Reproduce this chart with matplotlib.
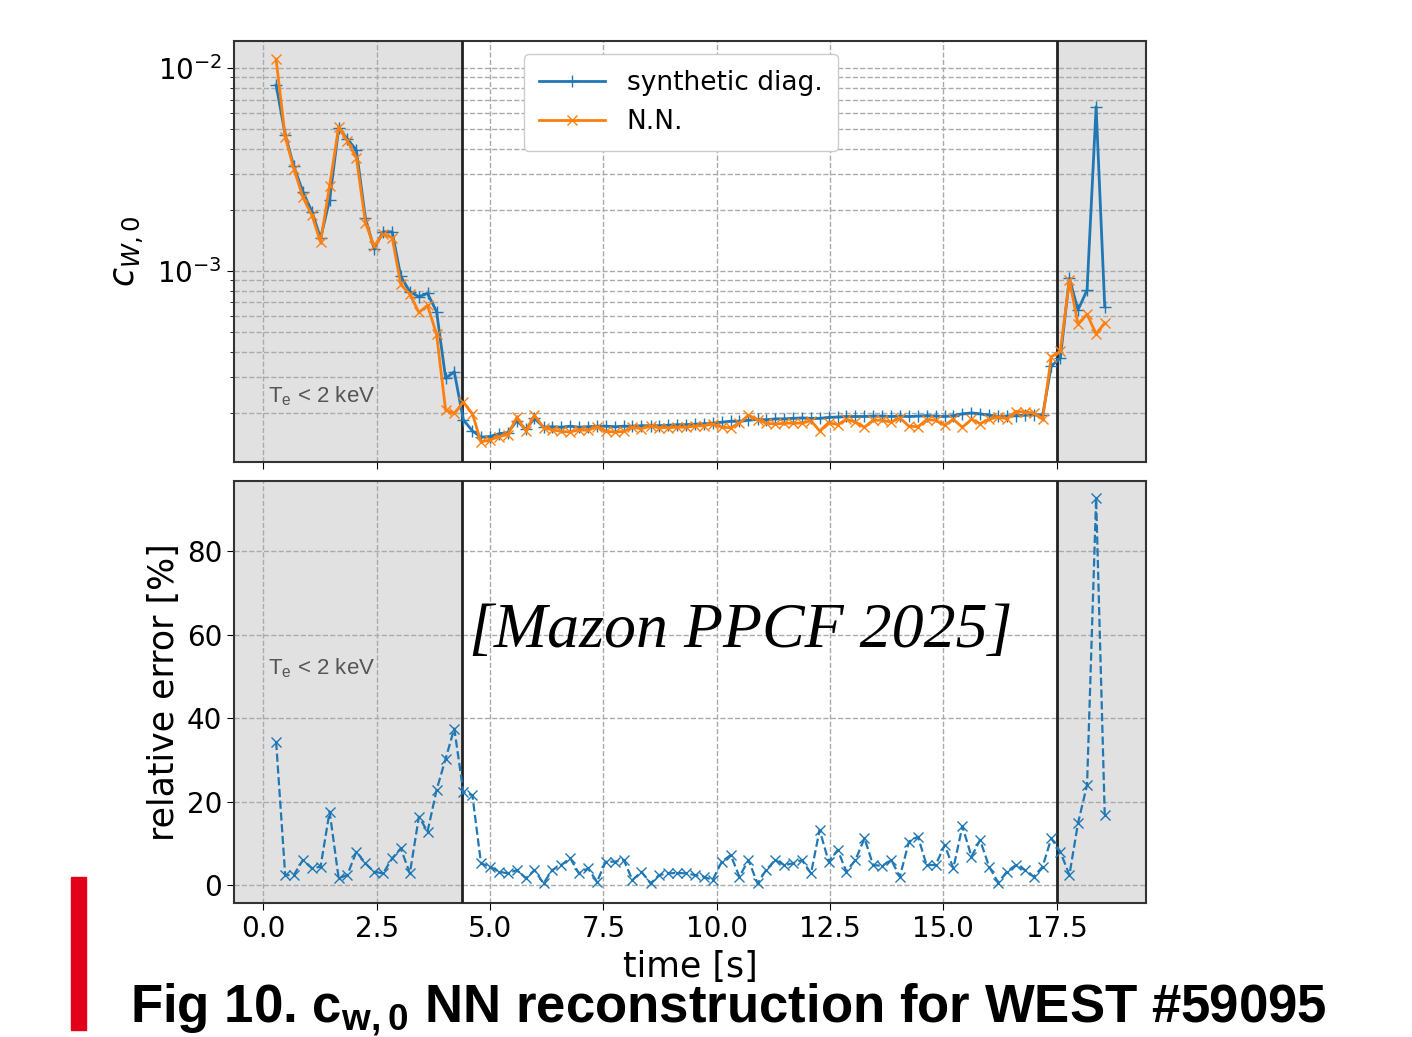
import numpy as np
import matplotlib.pyplot as plt
from matplotlib.patches import Rectangle

plt.rcParams['mathtext.fontset'] = 'custom'
plt.rcParams['mathtext.rm'] = 'DejaVu Sans'
plt.rcParams['mathtext.it'] = 'DejaVu Sans:italic'
plt.rcParams['mathtext.bf'] = 'Liberation Sans:bold'

# time samples [s]
time = [0.28, 0.48, 0.67, 0.87, 1.07, 1.26, 1.46, 1.66, 1.85, 2.05,
        2.25, 2.44, 2.64, 2.84, 3.03, 3.23, 3.43, 3.62, 3.82, 4.02,
        4.21, 4.41, 4.61, 4.80, 5.00, 5.20, 5.39, 5.59, 5.79, 5.98,
        6.18, 6.37, 6.57, 6.77, 6.96, 7.16, 7.36, 7.55, 7.75, 7.95,
        8.14, 8.34, 8.54, 8.73, 8.93, 9.13, 9.32, 9.52, 9.72, 9.91,
        10.11, 10.31, 10.50, 10.70, 10.90, 11.09, 11.29, 11.49, 11.68, 11.88,
        12.08, 12.27, 12.47, 12.67, 12.86, 13.06, 13.26, 13.45, 13.65, 13.85,
        14.04, 14.24, 14.44, 14.63, 14.83, 15.03, 15.22, 15.42, 15.62, 15.81,
        16.01, 16.21, 16.40, 16.60, 16.80, 16.99, 17.19, 17.38, 17.58, 17.78,
        17.97, 18.17, 18.37, 18.56]

# c_W,0 from synthetic diagnostic
c_synth = [8.25e-3, 4.70e-3, 3.28e-3, 2.46e-3, 1.96e-3, 1.45e-3, 2.24e-3, 5.05e-3, 4.48e-3, 3.94e-3,
           1.82e-3, 1.29e-3, 1.56e-3, 1.56e-3, 9.42e-4, 7.91e-4, 7.47e-4, 7.76e-4, 6.31e-4, 2.96e-4,
           3.19e-4, 1.85e-4, 1.63e-4, 1.52e-4, 1.53e-4, 1.58e-4, 1.60e-4, 1.83e-4, 1.66e-4, 1.88e-4,
           1.70e-4, 1.71e-4, 1.70e-4, 1.72e-4, 1.70e-4, 1.71e-4, 1.72e-4, 1.72e-4, 1.71e-4, 1.72e-4,
           1.72e-4, 1.73e-4, 1.73e-4, 1.73e-4, 1.74e-4, 1.75e-4, 1.75e-4, 1.76e-4, 1.77e-4, 1.78e-4,
           1.80e-4, 1.82e-4, 1.82e-4, 1.84e-4, 1.86e-4, 1.85e-4, 1.87e-4, 1.87e-4, 1.88e-4, 1.89e-4,
           1.88e-4, 1.88e-4, 1.90e-4, 1.91e-4, 1.92e-4, 1.92e-4, 1.92e-4, 1.93e-4, 1.93e-4, 1.92e-4,
           1.93e-4, 1.92e-4, 1.93e-4, 1.94e-4, 1.93e-4, 1.92e-4, 1.94e-4, 1.98e-4, 2.00e-4, 1.98e-4,
           1.95e-4, 1.92e-4, 1.93e-4, 1.94e-4, 1.95e-4, 1.96e-4, 1.95e-4, 3.40e-4, 3.72e-4, 9.20e-4,
           6.43e-4, 8.05e-4, 6.45e-3, 6.67e-4]

# c_W,0 from neural network
c_nn = [1.104e-2, 4.59e-3, 3.20e-3, 2.31e-3, 1.88e-3, 1.39e-3, 2.63e-3, 5.13e-3, 4.37e-3, 3.62e-3,
        1.73e-3, 1.33e-3, 1.52e-3, 1.46e-3, 8.59e-4, 7.69e-4, 6.25e-4, 6.77e-4, 4.87e-4, 2.06e-4,
        1.99e-4, 2.26e-4, 1.98e-4, 1.44e-4, 1.47e-4, 1.53e-4, 1.56e-4, 1.90e-4, 1.63e-4, 1.95e-4,
        1.69e-4, 1.65e-4, 1.62e-4, 1.61e-4, 1.65e-4, 1.64e-4, 1.71e-4, 1.62e-4, 1.61e-4, 1.62e-4,
        1.70e-4, 1.67e-4, 1.72e-4, 1.69e-4, 1.69e-4, 1.70e-4, 1.70e-4, 1.72e-4, 1.73e-4, 1.76e-4,
        1.70e-4, 1.69e-4, 1.78e-4, 1.95e-4, 1.85e-4, 1.78e-4, 1.76e-4, 1.78e-4, 1.78e-4, 1.78e-4,
        1.83e-4, 1.63e-4, 1.79e-4, 1.75e-4, 1.86e-4, 1.80e-4, 1.70e-4, 1.84e-4, 1.84e-4, 1.80e-4,
        1.89e-4, 1.72e-4, 1.71e-4, 1.85e-4, 1.84e-4, 1.74e-4, 1.86e-4, 1.70e-4, 1.86e-4, 1.77e-4,
        1.86e-4, 1.91e-4, 1.87e-4, 2.03e-4, 2.02e-4, 2.00e-4, 1.86e-4, 3.78e-4, 4.02e-4, 9.00e-4,
        5.48e-4, 6.12e-4, 4.90e-4, 5.55e-4]

# relative error [%]
rel_err = [34.3, 2.4, 2.4, 6.0, 4.0, 4.4, 17.6, 1.6, 2.4, 8.0,
           5.2, 3.2, 2.8, 6.4, 8.8, 2.8, 16.4, 12.8, 22.8, 30.3,
           37.5, 22.3, 21.5, 5.2, 4.4, 3.2, 2.8, 3.6, 1.6, 3.6,
           0.4, 3.6, 4.8, 6.4, 2.8, 4.0, 0.8, 5.6, 5.6, 6.0,
           1.2, 3.2, 0.4, 2.4, 2.8, 2.9, 2.8, 2.4, 2.0, 1.2,
           5.6, 7.2, 2.0, 6.0, 0.4, 3.6, 6.0, 4.8, 5.2, 6.0,
           2.8, 13.2, 5.6, 8.4, 3.2, 6.0, 11.2, 4.8, 4.6, 6.0,
           2.0, 10.4, 11.6, 4.8, 4.8, 9.6, 4.0, 14.1, 6.8, 10.8,
           4.4, 0.6, 3.2, 4.8, 3.6, 2.0, 4.4, 11.2, 8.0, 2.4,
           14.8, 24.0, 92.6, 16.8]

t_low1 = 4.38   # fin zone Te < 2 keV
t_low2 = 17.51  # debut zone Te < 2 keV
xlim = (-0.65, 19.47)

fig = plt.figure(figsize=(14.12, 10.37), dpi=100)
ax1 = fig.add_axes([0.1657, 0.5545, 0.6459, 0.406])
ax2 = fig.add_axes([0.1657, 0.1292, 0.6459, 0.407])

shade = '#e1e1e1'
for ax in (ax1, ax2):
    ax.axvspan(xlim[0], t_low1, color=shade, zorder=0)
    ax.axvspan(t_low2, xlim[1], color=shade, zorder=0)
    ax.axvline(t_low1, color='#222222', lw=2, zorder=3)
    ax.axvline(t_low2, color='#222222', lw=2, zorder=3)
    ax.set_xlim(*xlim)
    ax.set_xticks([0, 2.5, 5, 7.5, 10, 12.5, 15, 17.5])
    ax.tick_params(labelsize=20, length=5)
    for s in ax.spines.values():
        s.set_color('#333333')
        s.set_linewidth(1.5)

# haut : c_W,0
ax1.plot(time, c_synth, '-', marker='+', color='#1f77b4', lw=2, ms=8, label='synthetic diag.', zorder=4)
ax1.plot(time, c_nn, '-', marker='x', color='#ff7f0e', lw=2, ms=7, label='N.N.', zorder=4)
ax1.set_yscale('log')
ax1.set_ylim(1.146e-4, 1.36e-2)
ax1.grid(True, which='both', axis='y', ls='--', color='#aaaaaa', lw=1)
ax1.grid(True, which='major', axis='x', ls='--', color='#aaaaaa', lw=1)
ax1.tick_params(axis='x', labelbottom=False)
ax1.tick_params(axis='y', which='minor', length=3)
ax1.set_ylabel('$c_{W,0}$', fontsize=25, labelpad=8)
ax1.text(0.1, 2.42e-4, '$\\mathregular{T_e}$ < 2 keV', fontsize=16, color='#555555',
         va='center', family='Liberation Sans')
leg = ax1.legend(loc='upper center', fontsize=19, framealpha=1, borderpad=0.6,
                 handlelength=2.5, bbox_to_anchor=(0.49, 1.0))

# bas : erreur relative
ax2.plot(time, rel_err, '--', marker='x', color='#1f77b4', lw=1.6, ms=7, zorder=4)
ax2.set_ylim(-4.3, 96.8)
ax2.set_yticks([0, 20, 40, 60, 80])
ax2.grid(True, ls='--', color='#aaaaaa', lw=1)
ax2.set_ylabel('relative error [%]', fontsize=25)
ax2.set_xlabel('time [s]', fontsize=25, labelpad=5)
ax2.text(0.1, 52, '$\\mathregular{T_e}$ < 2 keV', fontsize=16, color='#555555',
         va='center', family='Liberation Sans')

fig.text(741 / 1412, 1 - 632 / 1037, '[Mazon PPCF 2025]', fontsize=46,
         family='Liberation Serif', style='italic', ha='center', va='center')

fig.text(130 / 1412, 1 - 1022 / 1037,
         'Fig 10. c$\\mathbf{_{w,0}}$ NN reconstruction for WEST #59095',
         fontsize=38, fontweight='bold', family='Liberation Sans', va='baseline')
fig.patches.append(Rectangle((71 / 1412, 1 - 1030 / 1037), 15 / 1412, 153 / 1037,
                             transform=fig.transFigure, color='#e2001a'))

fig.savefig('out.png', dpi=100)
